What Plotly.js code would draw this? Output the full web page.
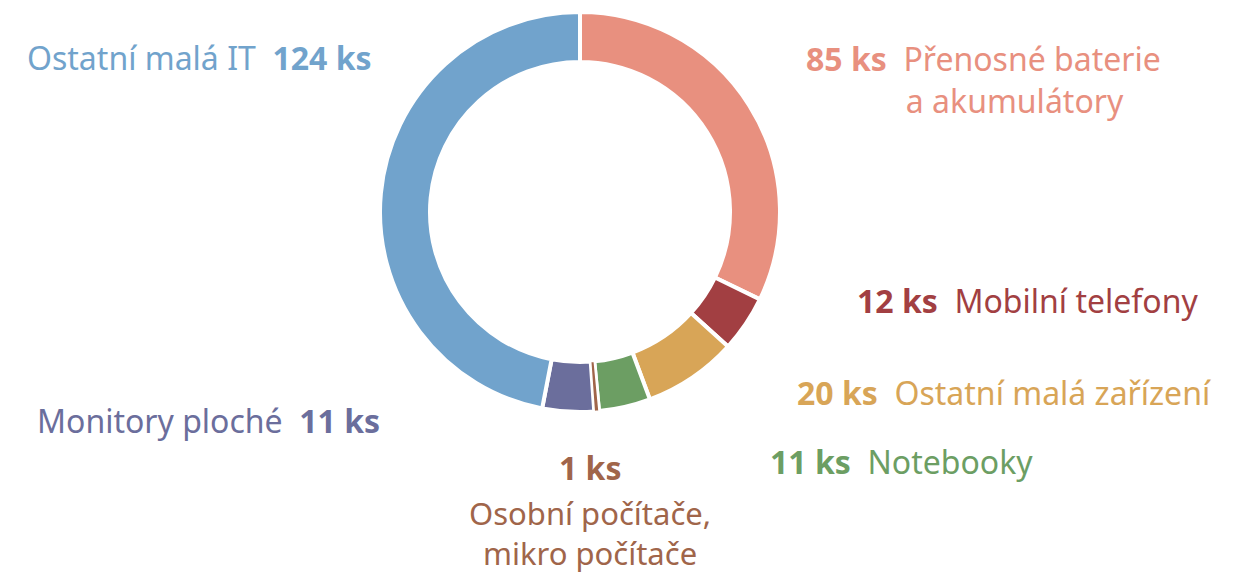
<!DOCTYPE html>
<html><head><meta charset="utf-8">
<script src="https://cdn.plot.ly/plotly-3.0.1.min.js"></script>
<style>html,body{margin:0;padding:0;background:#fff}#c{width:1249px;height:579px}</style>
</head><body><div id="c"></div>
<script>
const categories = ["Přenosné baterie a akumulátory","Mobilní telefony","Ostatní malá zařízení","Notebooky","Osobní počítače, mikro počítače","Monitory ploché","Ostatní malá IT"];
const values = [85, 12, 20, 11, 1, 11, 124];
const unit = "ks";
const colors = ["#E8907F","#A23F42","#D8A557","#6C9E63","#A0654A","#6B6E9C","#71A3CC"];

const W = 1249, H = 579;
const px = x => x / W, py = y => 1 - y / H;
const FS = 32;
const font = "Noto Sans, sans-serif";
function ann(i, text, x, y, xanchor, size) {
  return {text: text, x: px(x), y: py(y), xref: "paper", yref: "paper", xanchor: xanchor, yanchor: "middle",
    showarrow: false, font: {family: font, size: size || FS, color: colors[i]}};
}
const b = i => "<b>" + values[i] + " " + unit + "</b>";
const annotations = [
  ann(0, b(0) + "  Přenosné baterie<br>            a akumulátory", 804, 80, "left"),
  ann(1, b(1) + "  " + categories[1], 855, 300, "left"),
  ann(2, b(2) + "  " + categories[2], 795, 392, "left"),
  ann(3, b(3) + "  " + categories[3], 768, 461, "left"),
  ann(4, b(4), 590, 467, "center"),
  ann(4, "Osobní počítače,<br>mikro počítače", 590, 533, "center", 31),
  ann(5, categories[5] + "  " + b(5), 382, 420, "right"),
  ann(6, categories[6] + "  " + b(6), 374, 58, "right")
];
// second line of the battery label is aligned under the category name
annotations[0].align = "left";

const domain = {x: [px(380), px(780)], y: [py(412), py(12)]};
const base = {
  type: "pie", labels: categories, values: values, hole: 0.75, sort: false, direction: "clockwise", rotation: 0,
  textinfo: "none", hoverinfo: "label+value", domain: domain
};
const thinColors = colors.map((c, i) => values[i] < 3 ? c : "rgba(0,0,0,0)");
const thinLines = values.map(v => v < 3 ? "#fff" : "rgba(0,0,0,0)");
Plotly.newPlot("c", [
  Object.assign({}, base, {marker: {colors: colors, line: {color: "#fff", width: 4}}}),
  Object.assign({}, base, {marker: {colors: thinColors, line: {color: thinLines, width: 1.5}}})
], {
  width: W, height: H, margin: {l: 0, r: 0, t: 0, b: 0}, showlegend: false,
  paper_bgcolor: "#fff", annotations: annotations
}, {displayModeBar: false, staticPlot: true});
</script></body></html>
